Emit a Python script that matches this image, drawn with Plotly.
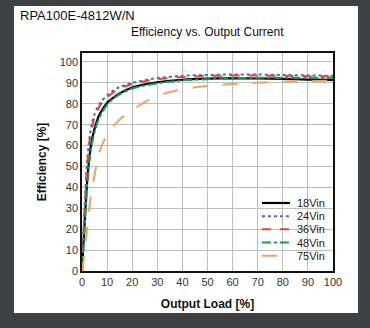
import plotly.graph_objects as go

load = [0, 1, 2, 3, 4, 5, 6, 7, 8, 10, 12, 15, 20, 25, 30, 40, 50, 60, 70, 80, 90, 100]
eff_18 = [0, 22, 42, 55, 63, 68, 72, 75, 77, 80.5, 82.5, 85, 87.8, 89.3, 90.3, 91.5, 92, 92.2, 92.1, 91.9, 91.6, 91.4]
eff_24 = [0, 30, 52, 64, 71, 75, 78, 80, 81.5, 84, 86, 88, 90, 91.3, 92.3, 93.4, 93.8, 94, 94, 93.8, 93.6, 93.4]
eff_36 = [0, 28, 50, 62, 69, 73.5, 76.5, 79, 80.5, 83, 85, 87.3, 89.5, 90.8, 91.8, 92.8, 93.3, 93.5, 93.5, 93.4, 93.2, 93.1]
eff_48 = [0, 20, 40, 53, 61, 66.5, 70.5, 73.5, 76, 79.5, 82, 84.5, 87.3, 88.8, 89.8, 91.2, 91.8, 92.2, 92.4, 92.5, 92.5, 92.5]
eff_75 = [0, 8, 20, 31, 40, 46, 52, 57, 60.5, 65, 68.5, 72.5, 77, 80.8, 83.8, 87, 88.5, 89.5, 90.1, 90.6, 90.9, 91.1]

series_names = ["18Vin", "24Vin", "36Vin", "48Vin", "75Vin"]
series_values = [eff_18, eff_24, eff_36, eff_48, eff_75]
series_colors = ["#000000", "#3b6fc6", "#e8423a", "#169a5c", "#f5a05c"]
series_dashes = ["solid", "dot", "dash", "dashdot", "longdash"]
series_widths = [2.2, 2, 2, 2, 2]

x_ticks = list(range(0, 101, 10))
y_ticks = list(range(0, 101, 10))

font_fam = "Liberation Sans, Arial, sans-serif"

fig = go.Figure()
for name, ys, col, dash, w in zip(series_names, series_values, series_colors, series_dashes, series_widths):
    fig.add_trace(go.Scatter(x=load, y=ys, mode="lines", name=name, showlegend=False,
                             line=dict(color=col, dash=dash, width=w, shape="spline", smoothing=0.6)))

# manual compact legend (paper / domain coordinates)
shapes = [
    dict(type="rect", xref="paper", yref="paper", x0=-0.271, x1=1.0996, y0=-0.1927, y1=1.2156,
         fillcolor="#ffffff", line=dict(width=0), layer="below"),
    dict(type="rect", xref="x domain", yref="y domain", x0=0.705, x1=0.955, y0=0.04, y1=0.345,
         fillcolor="#ffffff", line=dict(width=0), layer="below"),
]
annotations = [
    dict(text="RPA100E-4812W/N", xref="paper", yref="paper", x=-0.255, y=1.17,
         xanchor="left", yanchor="middle", showarrow=False,
         font=dict(size=13, color="#111", family=font_fam)),
    dict(text="Efficiency vs. Output Current", xref="paper", yref="paper", x=0.5, y=1.095,
         xanchor="center", yanchor="middle", showarrow=False,
         font=dict(size=12, color="#111", family=font_fam)),
]
row0 = 0.312
step = 0.0605
for i, (name, col, dash, w) in enumerate(zip(series_names, series_colors, series_dashes, series_widths)):
    yy = row0 - i * step
    shapes.append(dict(type="line", xref="x domain", yref="y domain", x0=0.717, x1=0.829, y0=yy, y1=yy,
                       line=dict(color=col, dash=dash, width=w), layer="above"))
    annotations.append(dict(text=name, xref="x domain", yref="y domain", x=0.85, y=yy,
                            xanchor="left", yanchor="middle", showarrow=False,
                            font=dict(size=11, color="#222", family=font_fam)))

fig.update_layout(
    width=370, height=328,
    margin=dict(l=82, r=37, t=53, b=57),
    paper_bgcolor="#3d4144",
    plot_bgcolor="#ffffff",
    font=dict(family=font_fam, color="#222222", size=11),
    showlegend=False,
    shapes=shapes,
    annotations=annotations,
)
fig.update_xaxes(range=[0, 100], tickvals=x_ticks, showgrid=True, gridcolor="#bdbdbd", gridwidth=1,
                 showline=True, linecolor="#111", linewidth=1.5, mirror=True, zeroline=False,
                 ticks="", tickfont=dict(size=11, color="#333"),
                 title=dict(text="<b>Output Load [%]</b>", font=dict(size=12, color="#111"), standoff=13))
fig.update_yaxes(range=[0, 104.3], tickvals=y_ticks, showgrid=True, gridcolor="#bdbdbd", gridwidth=1,
                 showline=True, linecolor="#111", linewidth=1.5, mirror=True, zeroline=False,
                 ticks="", tickfont=dict(size=11, color="#333"),
                 title=dict(text="<b>Efficiency [%]</b>", font=dict(size=12, color="#111"), standoff=10))

fig.write_html("out.html")
